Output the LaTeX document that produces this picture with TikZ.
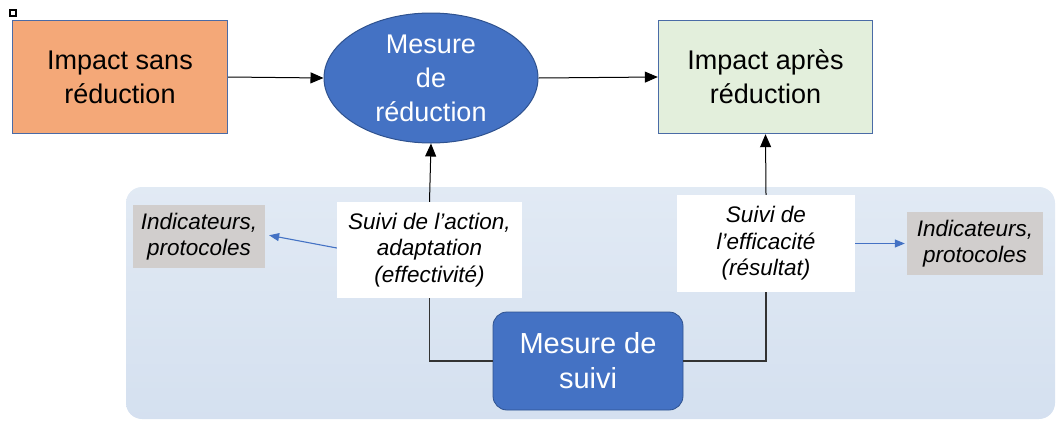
\documentclass[tikz,border=0pt]{standalone}
\usepackage{fontspec}
\setmainfont{Liberation Sans}
\usetikzlibrary{arrows.meta,shapes.geometric}
\definecolor{orangefill}{HTML}{F4A878}
\definecolor{greenfill}{HTML}{E3EFDC}
\definecolor{boxborder}{HTML}{4A6BA6}
\definecolor{ellblue}{HTML}{4472C4}
\definecolor{ellborder}{HTML}{2F528F}
\definecolor{panelfill}{HTML}{DCE6F2}
\definecolor{indfill}{HTML}{D1CECD}
\definecolor{linkgray}{HTML}{333333}
\definecolor{bluearrow}{HTML}{4472C4}
\tikzset{
  bigtext/.style={font=\fontsize{27}{34}\selectfont, align=center},
  smalltext/.style={font=\fontsize{22.5}{26.5}\selectfont\itshape, align=center},
  impactbox/.style={bigtext, draw=boxborder, line width=1.4pt, inner sep=0pt},
  labelbox/.style={smalltext, fill=white, inner sep=0pt},
  indbox/.style={smalltext, fill=indfill, inner sep=0pt},
  mainarrow/.style={-{Triangle[length=13pt,width=11pt]}, line width=1pt, black},
  linkline/.style={line width=1.3pt, linkgray},
  bluelink/.style={-{Triangle[length=10pt,width=8pt]}, line width=1.1pt, bluearrow}
}
\begin{document}
\begin{tikzpicture}[x=1pt,y=-1pt]
\useasboundingbox (0,0) rectangle (1056,421);
% background panel
\shade[rounded corners=16pt, top color=panelfill!85!white, bottom color=panelfill!95!ellblue]
  (126,187) rectangle (1055,419);
% small marker square
\draw[line width=1.4pt, black] (10,10) rectangle (16,16);
% top row
\node[impactbox, fill=orangefill, minimum width=215pt, minimum height=113pt] (sans) at (120,77) {Impact sans\\réduction};
\node[ellipse, bigtext, fill=ellblue, draw=ellborder, line width=1pt, text=white, minimum width=214pt, minimum height=130pt, inner sep=0pt] (red) at (431,78) {Mesure\\de\\réduction};
\node[impactbox, fill=greenfill, minimum width=214pt, minimum height=113pt] (apres) at (765.5,77) {Impact après\\réduction};
% monitoring labels
\node[labelbox, minimum width=185pt, minimum height=96pt] (act) at (429.5,250) {Suivi de l’action,\\adaptation\\(effectivité)};
\node[labelbox, minimum width=178pt, minimum height=97pt] (eff) at (766,243.5) {Suivi de\\l’efficacité\\(résultat)};
\node[indbox, minimum width=132pt, minimum height=63pt] (indL) at (199,236.5) {Indicateurs,\\protocoles};
\node[indbox, minimum width=136pt, minimum height=63pt] (indR) at (975,243.5) {Indicateurs,\\protocoles};
% monitoring measure
\node[bigtext, font=\fontsize{29}{35}\selectfont, fill=ellblue, draw=ellborder, line width=0.8pt, text=white, rounded corners=14pt, minimum width=190pt, minimum height=98pt, inner sep=0pt] (suivi) at (588,361) {Mesure de\\suivi};
% connectors
\draw[mainarrow] (sans.east) -- (red.west);
\draw[mainarrow] (red.east) -- (apres.west);
\draw[mainarrow] (act.north) -- (red.south);
\draw[mainarrow] (eff.north) -- (apres.south);
\draw[linkline] (suivi.west) -| (act.south);
\draw[linkline] (suivi.east) -| (eff.south);
\draw[bluelink, shorten >=4pt] ([yshift=2pt]act.west) -- ([yshift=2pt]indL.east);
\draw[bluelink, shorten >=2pt] (eff.east) -- (indR.west);
\end{tikzpicture}
\end{document}
